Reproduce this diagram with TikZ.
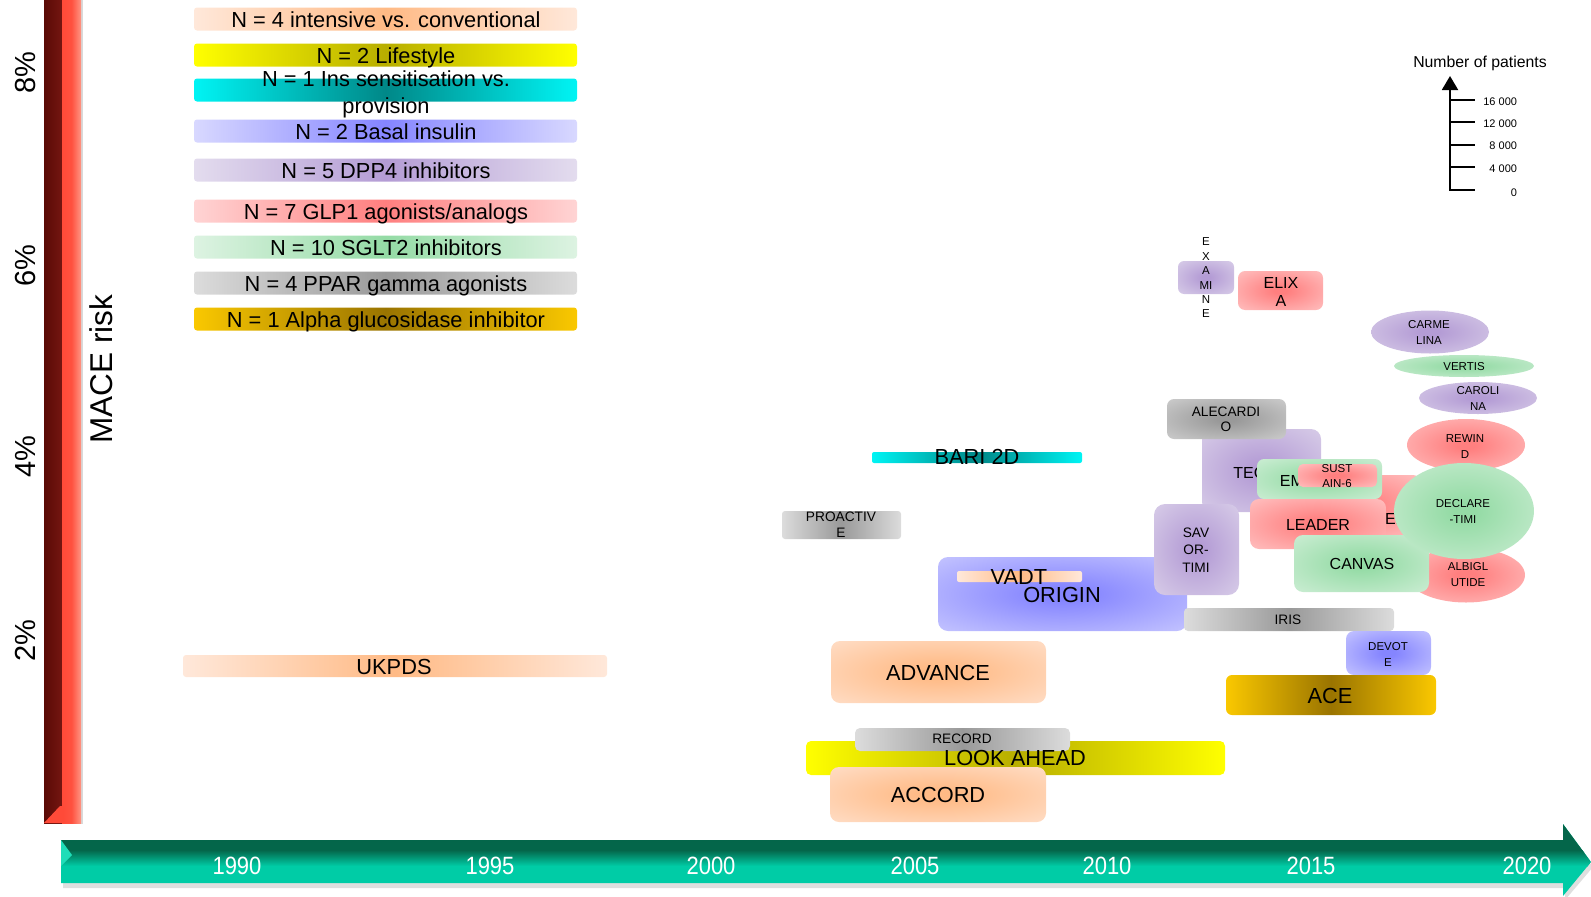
\documentclass[tikz,border=0pt]{standalone}
\usepackage{fontspec}
\setmainfont{Liberation Sans}
\newfontfamily\narrowfont[FakeStretch=0.88]{Liberation Sans}
\usetikzlibrary{shapes.geometric,arrows.meta}
\definecolor{peachO}{HTML}{FFE8DA}
\definecolor{peachI}{HTML}{FFBA85}
\definecolor{yelO}{HTML}{FFFF00}
\definecolor{yelI}{HTML}{B8AE00}
\definecolor{cyanO}{HTML}{00F4F4}
\definecolor{cyanI}{HTML}{008888}
\definecolor{blueO}{HTML}{D8D8FF}
\definecolor{blueI}{HTML}{8585FF}
\definecolor{purO}{HTML}{E3DCEE}
\definecolor{purI}{HTML}{B49CD5}
\definecolor{redO}{HTML}{FFD4D4}
\definecolor{redI}{HTML}{FF7F7F}
\definecolor{grnO}{HTML}{DDF3E2}
\definecolor{grnI}{HTML}{94DBA5}
\definecolor{gryO}{HTML}{DCDCDC}
\definecolor{gryI}{HTML}{999999}
\definecolor{gldO}{HTML}{FAC800}
\definecolor{gldI}{HTML}{9A7400}
\definecolor{tealD}{HTML}{04664A}
\definecolor{tealB}{HTML}{00CCA6}
\definecolor{tealL}{HTML}{1FDDB8}
\definecolor{barD}{HTML}{5A0A06}
\definecolor{barDD}{HTML}{741611}
\definecolor{barR}{HTML}{FF4A38}
\definecolor{barS}{HTML}{FF9583}
\colorlet{rin}{white}
\colorlet{rout}{white}
\pgfdeclareradialshading[rin,rout]{trialrad}{\pgfpointorigin}{color(0bp)=(rin); color(4bp)=(rin); color(46bp)=(rout); color(50bp)=(rout)}
\newcommand\ftbig{\fontsize{21.8}{27}\selectfont}
\newcommand\ftmid{\fontsize{16}{18}\selectfont}
\newcommand\ftsm{\fontsize{13.7}{16}\selectfont}
\newcommand\fttiny{\fontsize{11.5}{16}\selectfont}
\tikzset{
  bx/.style={rectangle, rounded corners=7pt, inner sep=0pt, outer sep=0pt, draw=none},
  bar/.style={bx, rounded corners=3pt},
  el/.style={ellipse, inner sep=0pt, outer sep=0pt, draw=none},
  hsh/.style 2 args={left color=#1, right color=#1, middle color=#2},
  rcin/.code={\colorlet{rin}{#1}},
  rcout/.code={\colorlet{rout}{#1}},
  rsh/.style 2 args={rcout=#1, rcin=#2, shading=trialrad},
  lb/.style={inner sep=0pt, outer sep=0pt, align=center, text=black},
  tbig/.style={lb, font=\ftbig, text height=15.6pt, text depth=0pt},
  tmid/.style={lb, font=\ftmid, text height=11.5pt, text depth=0pt},
  tsm/.style={lb, font=\ftsm, text height=9.8pt, text depth=0pt},
  ttiny/.style={lb, font=\fttiny, text height=8.2pt, text depth=0pt},
  mmid/.style={lb, font=\ftmid},
  msm/.style={lb, font=\ftsm},
  mtiny/.style={lb, font=\fttiny},
  yr/.style={inner sep=0pt, text=white, font=\narrowfont\fontsize{25}{25}\selectfont, text height=18pt, text depth=0pt},
  pct/.style={lb, font=\fontsize{29}{29}\selectfont, rotate=90, text height=21pt, text depth=0pt},
  sclab/.style={lb, anchor=east, font=\fontsize{11}{11}\selectfont, text height=8pt, text depth=0pt},
}
\newcommand\trialbox[6][]{\node[bx,#1,minimum width={(#5)-(#3)},minimum height={(#6)-(#4)}] (#2) at ({((#3)+(#5))/2},{((#4)+(#6))/2}) {};}
\newcommand\trialell[6][]{\node[el,#1,minimum width={2*(#5)},minimum height={2*(#6)}] (#2) at (#3,#4) {};}
\begin{document}
\begin{tikzpicture}[x=1pt,y=-1pt]
\useasboundingbox (0,0) rectangle (1591,897);
% vertical MACE risk bar
\fill[gray!30] (80,0) rectangle (83,824);
\shade[left color=barD, right color=barDD] (44,0) rectangle (62,823);
\shade[left color=barR, right color=barS, middle color=barR!90!barS] (62,0) rectangle (81,823);
\fill[barR] (44,823) -- (60,806) -- (64,806) -- (64,823) -- cycle;
% time arrow
\fill[gray!25] (63,845) -- (1565,845) -- (1565,829) -- (1593,867) -- (1565,900) -- (1565,888) -- (63,888) -- cycle;
\fill[tealB] (61,840) -- (1563,840) -- (1563,824) -- (1591,862) -- (1563,896) -- (1563,883) -- (61,883) -- cycle;
\begin{scope}
\clip (61,840) -- (1563,840) -- (1563,824) -- (1591,862) -- (1563,896) -- (1563,883) -- (61,883) -- cycle;
\fill[tealD] (55,818) rectangle (1595,853);
\shade[top color=tealD, bottom color=tealB] (55,850) rectangle (1595,866);
\end{scope}
\fill[tealL] (61,840) -- (72,855) -- (61,866) -- cycle;
\node[yr] (y1990) at (237,865) {1990};
\node[yr] (y1995) at (490,865) {1995};
\node[yr] (y2000) at (711,865) {2000};
\node[yr] (y2005) at (915,865) {2005};
\node[yr] (y2010) at (1107,865) {2010};
\node[yr] (y2015) at (1311,865) {2015};
\node[yr] (y2020) at (1527,865) {2020};
% percent labels
\node[pct] (p8) at (25,73) {8\%};
\node[pct] (p6) at (25,266) {6\%};
\node[pct] (p4) at (25,457) {4\%};
\node[pct] (p2) at (25,641) {2\%};
\node[lb, font=\fontsize{31.5}{31.5}\selectfont, rotate=90, text height=22.6pt, text depth=0pt] (mace) at (101,369) {MACE risk};
% legend
\trialbox[bar, hsh={peachO}{peachI}]{lgA}{194}{7.5}{577}{30.5}
\trialbox[bar, hsh={yelO}{yelI}]{lgB}{194}{43.5}{577}{66.5}
\trialbox[bar, hsh={cyanO}{cyanI}]{lgC}{194}{78.5}{577}{101.5}
\trialbox[bar, hsh={blueO}{blueI}]{lgD}{194}{119.5}{577}{142.5}
\trialbox[bar, hsh={purO}{purI}]{lgE}{194}{158.5}{577}{181.5}
\trialbox[bar, hsh={redO}{redI}]{lgF}{194}{199.5}{577}{222.5}
\trialbox[bar, hsh={grnO}{grnI}]{lgG}{194}{235.5}{577}{258.5}
\trialbox[bar, hsh={gryO}{gryI}]{lgH}{194}{271.5}{577}{294.5}
\trialbox[bar, hsh={gldO}{gldI}]{lgI}{194}{307.5}{577}{330.5}
\node[tbig] (lgAt) at (386,19.5) {N = 4 intensive vs. conventional};
\node[tbig] (lgBt) at (386,55.5) {N = 2 Lifestyle};
\node[lb, font=\ftbig] (lgCt) at (386,94.5) {N = 1 Ins sensitisation vs.\\provision};
\node[tbig] (lgDt) at (386,131.5) {N = 2 Basal insulin};
\node[tbig] (lgEt) at (386,170.5) {N = 5 DPP4 inhibitors};
\node[tbig] (lgFt) at (386,211.5) {N = 7 GLP1 agonists/analogs};
\node[tbig] (lgGt) at (386,247.5) {N = 10 SGLT2 inhibitors};
\node[tbig] (lgHt) at (386,283.5) {N = 4 PPAR gamma agonists};
\node[tbig] (lgIt) at (386,319.5) {N = 1 Alpha glucosidase inhibitor};
% number of patients scale
\node[lb, font=\fontsize{15.8}{16}\selectfont, text height=11.5pt, text depth=0pt] (np) at (1480,62) {Number of patients};
\coordinate (ax0) at (1450,190);
\coordinate (axtop) at (1450,76);
\draw[line width=2pt, -{Triangle[width=16pt,length=14pt]}] (ax0) -- (axtop);
\coordinate (t16a) at (1450,100); \coordinate (t16b) at (1475,100);
\coordinate (t12a) at (1450,122); \coordinate (t12b) at (1475,122);
\coordinate (t8a) at (1450,145); \coordinate (t8b) at (1475,145);
\coordinate (t4a) at (1450,167); \coordinate (t4b) at (1475,167);
\coordinate (t0a) at (1449,190); \coordinate (t0b) at (1475,190);
\draw[line width=1.6pt] (t16a) -- (t16b) (t12a) -- (t12b) (t8a) -- (t8b) (t4a) -- (t4b) (t0a) -- (t0b);
\node[sclab] (l16) at (1517,101) {16 000};
\node[sclab] (l12) at (1517,123) {12 000};
\node[sclab] (l8) at (1517,145) {8 000};
\node[sclab] (l4) at (1517,168) {4 000};
\node[sclab] (l0) at (1517,192) {0};
% early trials
\trialbox[bar, hsh={peachO}{peachI}]{ukpds}{183}{655}{607}{677}
\node[tbig] (ukpdsT) at (394,667) {UKPDS};
\trialbox[bar, rounded corners=2pt, hsh={cyanO}{cyanI}]{bari}{872}{452}{1082}{463}
\node[tbig] (bariT) at (977,457) {BARI 2D};
\trialbox[bar, hsh={gryO}{gryI}]{proactive}{782}{511}{901}{539}
\node[msm] (proactiveT) at (841,525) {PROACTIV\\E};
\trialbox[bx, rounded corners=10pt, rsh={blueO}{blueI}]{origin}{938}{557}{1187}{631}
\trialbox[bar, rounded corners=2pt, hsh={peachO}{peachI}]{vadt}{957}{571}{1082}{582}
\node[tbig] (vadtT) at (1019,577) {VADT};
\node[tbig] (originT) at (1062,595) {ORIGIN};
\trialbox[bx, rounded corners=9pt, rsh={peachO}{peachI}]{advance}{831}{641}{1046}{703}
\node[tbig] (advanceT) at (938,673) {ADVANCE};
\trialbox[bx, rounded corners=5pt, hsh={yelO}{yelI}]{lookahead}{806}{741}{1225}{775}
\trialbox[bar, rounded corners=5pt, hsh={gryO}{gryI}]{record}{855}{728}{1070}{751}
\node[tsm] (recordT) at (962,739) {RECORD};
\node[tbig] (lookaheadT) at (1015,758) {LOOK AHEAD};
\trialbox[bx, rounded corners=9pt, rsh={peachO}{peachI}]{accord}{830}{767}{1046}{822}
\node[tbig] (accordT) at (938,795) {ACCORD};
% recent trials
\trialbox[bx, rounded corners=6pt, rsh={purO}{purI}]{examine}{1178}{261}{1234}{294}
\node[lb, font=\fontsize{11.5}{14.4}\selectfont] (examineT) at (1206,278) {E\\X\\A\\MI\\N\\E};
\trialbox[bx, rsh={redO}{redI}]{elixa}{1238}{271}{1323}{310}
\node[mmid] (elixaT) at (1281,292) {ELIX\\A};
\trialell[rsh={purO}{purI}]{carmelina}{1430}{332}{59}{21.5}
\node[mtiny] (carmelinaT) at (1429,332) {CARME\\LINA};
\trialell[rsh={grnO}{grnI}]{vertis}{1464}{366}{70}{11}
\node[ttiny] (vertisT) at (1464,366) {VERTIS};
\trialell[rsh={purO}{purI}]{carolina}{1478}{398}{59}{16}
\node[mtiny] (carolinaT) at (1478,398.5) {CAROLI\\NA};
\trialell[rsh={redO}{redI}]{rewind}{1466}{445}{59}{26}
\node[mtiny] (rewindT) at (1465,447) {REWIN\\D};
\trialbox[bx, rounded corners=10pt, rsh={purO}{purI}]{tecos}{1202}{429}{1321}{512}
\node[tmid] (tecosT) at (1261,473) {TECOS};
\trialbox[bx, rsh={gryO}{gryI}]{alecardio}{1167}{399}{1286}{439}
\node[lb, font=\fontsize{13.7}{15}\selectfont] (alecardioT) at (1226,419.5) {ALECARDI\\O};
\trialbox[bx, rsh={redO}{redI}]{exscel}{1300}{475}{1420}{535}
\node[tmid] (exscelT) at (1373,519) {EXSCEL};
\trialbox[bx, rsh={grnO}{grnI}]{empareg}{1257}{459}{1382}{499}
\node[tmid] (emparegT) at (1322,481) {EMPA-REG};
\trialbox[bx, rounded corners=5pt, rsh={redO}{redI}]{sustain}{1298}{464}{1377}{487}
\node[lb, font=\fontsize{11.5}{15}\selectfont] (sustainT) at (1337,476) {SUST\\AIN-6};
\trialbox[bx, rounded corners=9pt, rsh={redO}{redI}]{leader}{1250}{499}{1386}{549}
\node[tmid] (leaderT) at (1318,525) {LEADER};
\trialbox[bx, rounded corners=11pt, rsh={purO}{purI}]{savor}{1154}{504}{1239}{595}
\node[lb, font=\fontsize{13.7}{17.5}\selectfont] (savorT) at (1196,550) {SAV\\OR-\\TIMI};
\trialell[rsh={redO}{redI}]{harmony}{1466}{575}{59}{27.5}
\node[mtiny] (harmonyT) at (1468,575) {ALBIGL\\UTIDE};
\trialbox[bx, rounded corners=9pt, rsh={grnO}{grnI}]{canvas}{1294}{535}{1429}{592}
\node[tmid] (canvasT) at (1362,564) {CANVAS};
\trialell[rsh={grnO}{grnI}]{declare}{1464}{511}{70}{48}
\node[mtiny] (declareT) at (1463,511) {DECLARE\\-TIMI};
\trialbox[bar, rounded corners=4pt, hsh={gryO}{gryI}]{iris}{1184}{608}{1394}{631}
\node[tsm] (irisT) at (1288,620) {IRIS};
\trialbox[bx, rounded corners=8pt, rsh={blueO}{blueI}]{devote}{1346}{631}{1431}{675}
\node[mtiny] (devoteT) at (1388,654) {DEVOT\\E};
\trialbox[bx, rounded corners=6pt, hsh={gldO}{gldI}]{ace}{1226}{675}{1436}{715}
\node[tbig] (aceT) at (1330,696) {ACE};
\end{tikzpicture}
\end{document}
